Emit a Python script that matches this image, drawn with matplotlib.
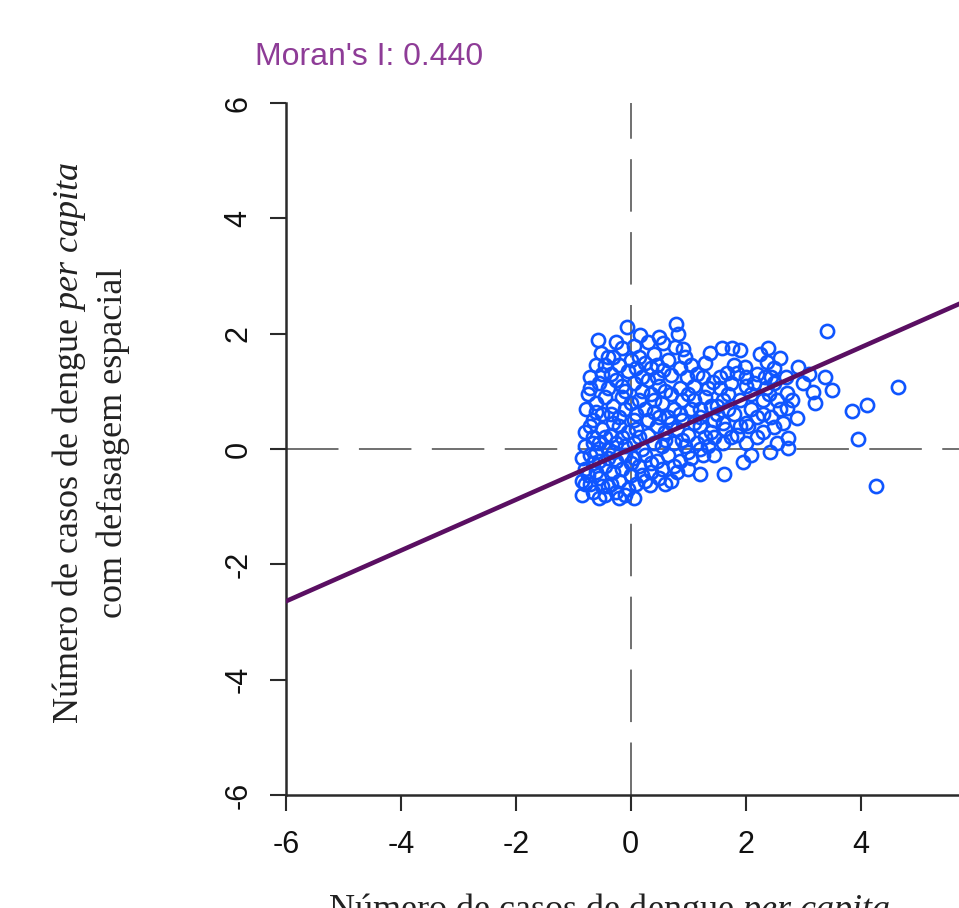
import matplotlib.pyplot as plt
import numpy as np

plt.rcParams['mathtext.fontset'] = 'custom'
plt.rcParams['mathtext.rm'] = 'Liberation Serif'
plt.rcParams['mathtext.it'] = 'Liberation Serif:italic'
plt.rcParams['axes.unicode_minus'] = False

# observed (standardised) dengue cases per capita vs spatial lag
x_vals = [
    -0.57, -0.07, 0.17, 0.78, 0.82, 0.91, -0.51, 0.05, 0.30, 0.56, 0.77, -0.30,
    -0.15, 0.40, 1.38, 1.59, 1.76, 1.90, 2.39, 2.60, 3.41, 0.15, -0.45,
    -0.60, -0.70, -0.55, -0.35, -0.20, -0.05, 0.10, 0.25, 0.45, 0.56, 0.71,
    0.98, 1.25, 1.43, 1.67, 1.85, 1.99, 2.37, 2.33, 2.91, 3.38, -0.40, -0.15,
    0.05, 0.30, 0.50, 0.85, 1.10, 1.55, 2.00, 2.20, 2.50, 0.65, 1.05, -0.25, 0.20,
    -0.75, -0.60, -0.45, -0.30, -0.15, 0.00, 0.15, 0.35, 0.55, 0.70, 0.90, 1.05,
    1.30, 1.50, 1.70, 1.90, 2.10, 2.30, 2.72, 2.72, 3.17, 3.50, 3.20, 3.85, 4.11,
    4.65, 2.90, -0.77, -0.50, -0.20, 0.10, 0.40, 0.65, 0.85, 1.20, 1.45, 1.80,
    2.00, 2.45, 2.60, -0.65, 0.25, 1.60, 2.20,
    -0.80, -0.65, -0.50, -0.35, -0.20, -0.05, 0.10, 0.30, 0.45, 0.60, 0.80, 1.00,
    1.20, 1.40, 1.65, 1.85, 2.05, 2.30, 2.50, 2.74, 3.95, -0.80, -0.55, -0.40,
    -0.25, -0.10, 0.05, 0.20, 0.40, 0.55, 0.75, 0.95, 1.15, 1.35, 1.60, 2.42,
    2.74, 2.55, 0.15, -0.30, 0.70,
    -0.85, -0.70, -0.55, -0.40, -0.25, -0.10, 0.05, 0.25, 0.45, 0.65, 0.85, 1.05,
    1.25, -0.80, -0.60, -0.45, -0.30, -0.15, 0.00, 0.15, 0.35, 0.55, 0.75, 1.00,
    1.20, 1.62, 1.95, -0.85, -0.70, -0.55, -0.40, -0.20, -0.05, 0.10, 0.33, 0.50,
    -0.84, -0.65, -0.45, -0.25, -0.10, 0.20, 4.27, 0.70, -0.75,
    -0.70, -0.60, -0.35, -0.10, 0.05, 0.30, 0.50, -0.70, -0.45, -0.15, 0.35,
    -0.60, -0.30, 0.60, 0.90, 1.10, -0.40, 0.45, -0.65, -0.50, 0.00, -0.35,
    0.25, 0.90, 1.30, 1.50, 1.75, 2.10, 2.40, 2.50, 2.25, 1.30, 0.95, 0.50,
    0.35, 0.00, -0.25,
    0.85, 1.00, 1.15, 1.20, 1.35, 1.40, 1.55, 1.60, 1.70, 1.80, 1.90, 2.00,
    2.15, 2.20, 2.30, 2.35, 2.45, 2.55, 2.65, 2.70, 2.80, 3.00, 3.10, 1.00,
    1.20, 1.45, 1.75, 2.00, 2.10, 0.80, 0.60, 1.45, 1.10, 0.75, 0.60, 0.40,
    0.20, -0.10, -0.50, -0.65, -0.80, -0.55, -0.20, 0.05,
]
lag_vals = [
    1.89, 2.12, 1.98, 2.17, 2.00, 1.73, 1.66, 1.78, 1.85, 1.84, 1.77, 1.60,
    1.75, 1.65, 1.66, 1.75, 1.75, 1.72, 1.75, 1.58, 2.05, 1.60, 1.45,
    1.45, 1.25, 1.15, 1.30, 1.45, 1.35, 1.40, 1.50, 1.45, 1.37, 1.28,
    1.25, 1.25, 1.16, 1.32, 1.32, 1.42, 1.51, 1.25, 1.42, 1.25, 1.05, 1.10,
    1.15, 1.20, 1.10, 1.05, 1.10, 1.05, 1.10, 1.30, 1.15, 1.55, 1.45, 1.20, 1.00,
    0.95, 0.80, 0.90, 0.75, 0.90, 0.80, 0.85, 0.95, 0.80, 0.95, 0.85, 0.70,
    0.90, 0.75, 0.95, 0.85, 0.70, 0.85, 0.97, 0.71, 0.99, 1.02, 0.80, 0.66, 0.76,
    1.08, 0.53, 0.69, 0.60, 0.55, 0.60, 0.65, 0.55, 0.60, 0.55, 0.50, 0.60,
    0.45, 0.55, 0.70, 0.50, 0.70, 0.85, 0.55,
    0.30, 0.20, 0.35, 0.25, 0.40, 0.30, 0.35, 0.25, 0.40, 0.30, 0.35, 0.25,
    0.40, 0.30, 0.35, 0.25, 0.40, 0.30, 0.38, 0.19, 0.17, 0.05, 0.10, 0.00,
    0.10, 0.05, 0.10, 0.00, 0.10, 0.05, 0.10, 0.05, 0.10, 0.05, 0.10, -0.05,
    0.02, 0.10, 0.20, 0.45, 0.45,
    -0.15, -0.10, -0.20, -0.15, -0.20, -0.10, -0.15, -0.10, -0.20, -0.10, -0.20, -0.15,
    -0.10, -0.35, -0.40, -0.30, -0.40, -0.35, -0.45, -0.30, -0.40, -0.35, -0.30, -0.35,
    -0.43, -0.43, -0.23, -0.55, -0.60, -0.50, -0.65, -0.55, -0.70, -0.60, -0.62, -0.50,
    -0.80, -0.75, -0.80, -0.75, -0.80, -0.45, -0.64, -0.55, -0.45,
    1.05, 0.65, 0.60, 0.70, 0.50, 0.50, 0.55, 0.40, 0.20, 0.20, -0.25,
    -0.05, -0.05, 0.15, 0.50, 0.85, 1.60, 1.25, -0.25, -0.65, -0.25, -0.60,
    -0.55, 0.15, 0.20, 0.60, 1.15, 0.95, 0.95, 1.40, 1.65, 1.50, 1.60, 1.95,
    1.40, 1.55, 1.85,
    1.40, 0.95, 1.30, 0.70, 1.05, 0.75, 1.25, 0.45, 0.70, 1.45, 0.40, 1.25,
    1.15, 0.20, 0.60, 1.05, 1.25, 0.85, 0.45, 1.25, 0.85, 1.15, 1.30, -0.05,
    0.00, -0.10, 0.20, 0.10, -0.10, -0.40, -0.60, 0.20, 0.45, 0.70, 1.00, 0.85,
    1.25, 1.00, 1.30, 0.10, -0.60, -0.85, -0.85, -0.85,
]
moran_i = 0.440
ticks = [-6, -4, -2, 0, 2, 4, 6]

fig = plt.figure(figsize=(9.59, 9.08), dpi=100)
ax = fig.add_axes([286 / 959, 113 / 908, 689.4 / 959, 692 / 908])

dash = (0, (27, 10.5))
ax.axhline(0, color='#707070', lw=1.4, ls=dash, zorder=1)
ax.plot([0, 0], [-6, 6], color='#707070', lw=1.4, ls=dash, zorder=1)

ax.plot(x_vals, lag_vals, 'o', ms=9.5, mfc='none', mec='#0f55ff', mew=1.9, zorder=2)

line_x = np.array([-6, 6])
ax.plot(line_x, moran_i * line_x, color='#5a0f62', lw=3.3, zorder=3)

ax.set_xlim(-6, 6)
ax.set_ylim(-6, 6)
ax.set_xticks(ticks[:-1])
ax.set_yticks(ticks)
ax.spines['top'].set_visible(False)
ax.spines['right'].set_visible(False)
for s in ['left', 'bottom']:
    ax.spines[s].set_linewidth(1.8)
    ax.spines[s].set_color('#2a2a2a')
ax.tick_params(length=11.5, width=1.5, color='#2a2a2a', labelsize=22,
               labelcolor='#111111')
ax.tick_params(axis='x', pad=14)
ax.tick_params(axis='y', pad=12)
for lbl in ax.get_xticklabels() + ax.get_yticklabels():
    lbl.set_fontfamily('Liberation Sans')
for lbl in ax.get_yticklabels():
    lbl.set_rotation(90)
    lbl.set_va('center')

fig.text(255 / 959, 1 - 57 / 908, "Moran's I: 0.440", color='#8e3c97',
         fontsize=23, family='Liberation Sans', ha='left', va='center')

lab = r'Número de casos de dengue $\it{per\ capita}$'
fig.text(69 / 959, 1 - 443 / 908, lab, rotation=90, fontsize=26,
         family='Liberation Serif', ha='center', va='center', color='#222222')
fig.text(113 / 959, 1 - 443 / 908, 'com defasagem espacial', rotation=90,
         fontsize=26, family='Liberation Serif', ha='center', va='center',
         color='#222222')
fig.text(609 / 959, 1 - 910 / 908, lab, fontsize=26, family='Liberation Serif',
         ha='center', va='center', color='#222222')

fig.savefig('out.png', dpi=100)
